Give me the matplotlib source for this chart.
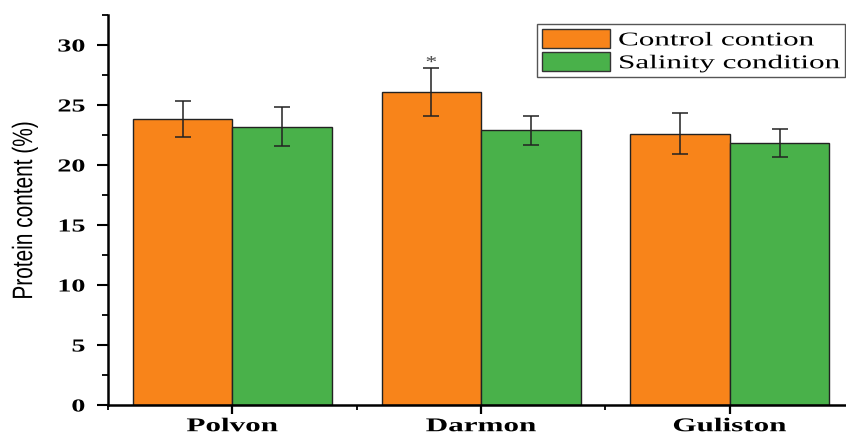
import matplotlib
matplotlib.use('Agg')
import matplotlib.pyplot as plt
from matplotlib.ticker import MultipleLocator
from matplotlib.patheffects import AbstractPathEffect
from matplotlib.transforms import Affine2D
from matplotlib.textpath import TextPath
from matplotlib.font_manager import FontProperties
import numpy as np

# data
cultivars = ['Polvon', 'Darmon', 'Guliston']
control = [23.8, 26.1, 22.6]
control_err = [1.5, 2.0, 1.7]
salinity = [23.2, 22.9, 21.85]
salinity_err = [1.6, 1.2, 1.15]
series_names = ['Control contion', 'Salinity condition']
yticks = [0, 5, 10, 15, 20, 25, 30]

ORANGE = '#F8841A'
GREEN = '#49B14A'
DARK = '#222222'


class Stretch(AbstractPathEffect):
    """Widen text glyphs (the source image is stretched sideways)."""

    def __init__(self, sx=1.0, sy=1.0, anchor='center', dx=0.0):
        super().__init__()
        self.sx, self.sy, self.anchor, self.dx = sx, sy, anchor, dx

    def draw_path(self, renderer, gc, tpath, affine, rgbFace=None):
        ext = tpath.get_extents()
        if self.anchor == 'left':
            x0 = 0.0
        elif self.anchor == 'right':
            x0 = ext.x1
        else:
            x0 = (ext.x0 + ext.x1) / 2
        y0 = (ext.y0 + ext.y1) / 2
        t = (Affine2D().translate(-x0, -y0).scale(self.sx, self.sy)
             .translate(x0 + self.dx * 100, y0) + affine)
        renderer.draw_path(gc, tpath, t, rgbFace)


fig = plt.figure(figsize=(8.46, 4.37), dpi=100)
ax = fig.add_axes([108 / 846, 32 / 437, 738 / 846, 390 / 437])

x = np.arange(len(cultivars))
w = 0.4
ekw = dict(ecolor=DARK, elinewidth=1.1, capsize=6, capthick=1.1)
ax.bar(x - w / 2, control, w, yerr=control_err, color=ORANGE,
       edgecolor=DARK, linewidth=1.0, label=series_names[0], error_kw=ekw)
ax.bar(x + w / 2, salinity, w, yerr=salinity_err, color=GREEN,
       edgecolor=DARK, linewidth=1.0, label=series_names[1], error_kw=ekw)

# significance mark on Darmon control
ax.text(x[1] - w / 2, control[1] + control_err[1] + 0.4, '*', ha='center',
        va='center', fontsize=12, family='Liberation Serif', color='#444444',
        path_effects=[Stretch(1.4)])

ax.set_xlim(-0.5, 2.467)
ax.set_ylim(0, 32.5)
ax.set_xticks(x)
ax.set_xticklabels(cultivars, family='Liberation Serif', fontweight='bold',
                   fontsize=14, path_effects=[Stretch(1.6)])
ax.xaxis.set_minor_locator(MultipleLocator(0.5))
ax.set_yticks(yticks)
ax.set_yticklabels([str(v) for v in yticks], family='Liberation Serif',
                   fontweight='bold', fontsize=13.2,
                   path_effects=[Stretch(1.53, anchor='right')])
ax.yaxis.set_minor_locator(MultipleLocator(2.5))

ax.tick_params(axis='y', which='major', length=8, width=1.5, pad=8.5)
ax.tick_params(axis='y', which='minor', length=4.5, width=1.3)
ax.tick_params(axis='x', which='major', length=6.5, width=1.6, pad=3)
ax.tick_params(axis='x', which='minor', length=3.5, width=1.3)
for s in ['top', 'right']:
    ax.spines[s].set_visible(False)
for s in ['left', 'bottom']:
    ax.spines[s].set_linewidth(1.8)

ax.set_ylabel('Protein content (%)', family='Liberation Sans', fontsize=15,
              path_effects=[Stretch(1.0, 1.35)])
ax.yaxis.set_label_coords(-0.1, 0.5)

# legend: text is widened, so shift it and pad the handle gap to fit the frame
leg_fs = 14
fs_px = leg_fs * 100 / 72
leg_prop = FontProperties(family='Liberation Serif', size=leg_fs)
w_long = max(TextPath((0, 0), s, size=fs_px, prop=leg_prop).get_extents().width
             for s in series_names)
sx_leg = 1.6
shift = (sx_leg - 1) * w_long
leg = ax.legend(loc='upper right', bbox_to_anchor=(1 - 1 / 738, 1 - 9 / 390),
                prop=leg_prop, frameon=True, fancybox=False,
                edgecolor='#555555', framealpha=1,
                handlelength=68 / fs_px, handleheight=22 / fs_px,
                handletextpad=(8 + shift) / fs_px,
                borderpad=0.27, labelspacing=0.14, borderaxespad=0)
leg.get_frame().set_linewidth(1.0)
for t in leg.get_texts():
    t.set_path_effects([Stretch(sx_leg, anchor='left', dx=-shift / fs_px)])
for p in leg.get_patches():
    p.set_edgecolor('#333333')

fig.savefig('out.png', dpi=100)
